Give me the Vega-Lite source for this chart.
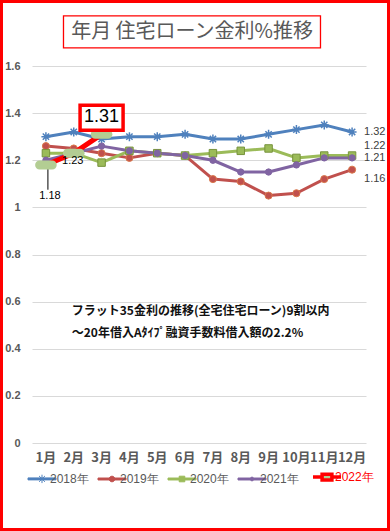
{
  "$schema": "https://vega.github.io/schema/vega-lite/v6.json",
  "width": 390,
  "height": 531,
  "padding": 0,
  "autosize": {"type": "none"},
  "background": "white",
  "config": {"view": {"stroke": "#ff0000", "strokeWidth": 6}},
  "data": {"values": [
    {"year": "2018年", "month": "1月", "value": 1.30}, {"year": "2018年", "month": "2月", "value": 1.32}, {"year": "2018年", "month": "3月", "value": 1.29}, {"year": "2018年", "month": "4月", "value": 1.30}, {"year": "2018年", "month": "5月", "value": 1.30}, {"year": "2018年", "month": "6月", "value": 1.31}, {"year": "2018年", "month": "7月", "value": 1.29}, {"year": "2018年", "month": "8月", "value": 1.29}, {"year": "2018年", "month": "9月", "value": 1.31}, {"year": "2018年", "month": "10月", "value": 1.33}, {"year": "2018年", "month": "11月", "value": 1.35}, {"year": "2018年", "month": "12月", "value": 1.32},
    {"year": "2019年", "month": "1月", "value": 1.26}, {"year": "2019年", "month": "2月", "value": 1.25}, {"year": "2019年", "month": "3月", "value": 1.23}, {"year": "2019年", "month": "4月", "value": 1.21}, {"year": "2019年", "month": "5月", "value": 1.23}, {"year": "2019年", "month": "6月", "value": 1.22}, {"year": "2019年", "month": "7月", "value": 1.12}, {"year": "2019年", "month": "8月", "value": 1.11}, {"year": "2019年", "month": "9月", "value": 1.05}, {"year": "2019年", "month": "10月", "value": 1.06}, {"year": "2019年", "month": "11月", "value": 1.12}, {"year": "2019年", "month": "12月", "value": 1.16},
    {"year": "2020年", "month": "1月", "value": 1.23}, {"year": "2020年", "month": "2月", "value": 1.23}, {"year": "2020年", "month": "3月", "value": 1.19}, {"year": "2020年", "month": "4月", "value": 1.24}, {"year": "2020年", "month": "5月", "value": 1.23}, {"year": "2020年", "month": "6月", "value": 1.22}, {"year": "2020年", "month": "7月", "value": 1.23}, {"year": "2020年", "month": "8月", "value": 1.24}, {"year": "2020年", "month": "9月", "value": 1.25}, {"year": "2020年", "month": "10月", "value": 1.21}, {"year": "2020年", "month": "11月", "value": 1.22}, {"year": "2020年", "month": "12月", "value": 1.22},
    {"year": "2021年", "month": "1月", "value": 1.20}, {"year": "2021年", "month": "2月", "value": 1.23}, {"year": "2021年", "month": "3月", "value": 1.26}, {"year": "2021年", "month": "4月", "value": 1.24}, {"year": "2021年", "month": "5月", "value": 1.23}, {"year": "2021年", "month": "6月", "value": 1.22}, {"year": "2021年", "month": "7月", "value": 1.20}, {"year": "2021年", "month": "8月", "value": 1.15}, {"year": "2021年", "month": "9月", "value": 1.15}, {"year": "2021年", "month": "10月", "value": 1.18}, {"year": "2021年", "month": "11月", "value": 1.21}, {"year": "2021年", "month": "12月", "value": 1.21},
    {"year": "2022年", "month": "1月", "value": 1.18}, {"year": "2022年", "month": "2月", "value": 1.23}, {"year": "2022年", "month": "3月", "value": 1.31}
  ]},
  "encoding": {
    "x": {"field": "month", "type": "ordinal",
      "sort": ["1月","2月","3月","4月","5月","6月","7月","8月","9月","10月","11月","12月"],
      "scale": {"type": "band", "range": [32, 366], "paddingInner": 0, "paddingOuter": 0},
      "axis": {"orient": "bottom", "offset": -88, "domain": false, "ticks": false, "tickSize": 0, "labelPadding": 8, "labelFont": "Noto Sans CJK JP", "labelFontWeight": "bold", "labelFontSize": 13, "labelColor": "#595959", "labelAngle": 0, "labelOverlap": false, "grid": false, "title": null}},
    "y": {"field": "value", "type": "quantitative",
      "scale": {"domain": [0, 1.6], "range": [443, 66], "nice": false},
      "axis": {"values": [0, 0.2, 0.4, 0.6, 0.8, 1, 1.2, 1.4, 1.6], "labelExpr": "'' + datum.value", "offset": -32, "domain": false, "ticks": false, "tickSize": 0, "labelPadding": 12, "labelFont": "Liberation Sans", "labelFontWeight": "bold", "labelFontSize": 11, "labelColor": "#595959", "grid": true, "gridColor": "#d9d9d9", "gridWidth": 1, "title": null}}
  },
  "layer": [
    {
      "transform": [{"filter": "datum.year != '2022年'"}],
      "mark": {"type": "line", "strokeWidth": 3, "strokeJoin": "round", "strokeCap": "round"},
      "encoding": {
        "color": {"field": "year", "type": "nominal",
          "scale": {"domain": ["2018年","2019年","2020年","2021年","2022年"], "range": ["#4F81BD","#C0504D","#9BBB59","#8064A2","#FF0000"]},
          "legend": {"orient": "none", "legendX": 36, "legendY": 471, "direction": "horizontal", "columns": 5, "title": null,
            "padding": 0, "columnPadding": 7, "labelOffset": 2, "labelFont": "Liberation Sans", "labelFontSize": 12,
            "labelColor": {"expr": "datum.label == '2022年' ? '#ff0000' : '#595959'"},
            "symbolSize": 784, "symbolOpacity": 1,
            "symbolType": {"expr": "datum.value == '2018年' ? 'M-1,-0.07H1V0.07H-1Z M-0.3,0H0.3M0,-0.3V0.3M-0.21,-0.21L0.21,0.21M-0.21,0.21L0.21,-0.21' : datum.value == '2019年' ? 'M-1,-0.07H1V0.07H-1Z M0.2,0A0.2,0.2,0,1,1,-0.2,0A0.2,0.2,0,1,1,0.2,0Z' : datum.value == '2020年' ? 'M-1,-0.07H1V0.07H-1Z M-0.2,-0.2H0.2V0.2H-0.2Z' : datum.value == '2021年' ? 'M-1,-0.07H1V0.07H-1Z M0.13,0A0.13,0.13,0,1,1,-0.13,0A0.13,0.13,0,1,1,0.13,0Z' : 'M-1,0H-0.35M0.35,0H1M-0.35,-0.2H0.35V0.2H-0.35Z'"},
            "symbolFillColor": {"expr": "datum.value == '2018年' ? '#4F81BD' : datum.value == '2019年' ? '#C0504D' : datum.value == '2020年' ? '#9BBB59' : datum.value == '2021年' ? '#8064A2' : '#b3cd93'"},
            "symbolStrokeWidth": {"expr": "datum.value == '2022年' ? 3.5 : 1"}
          }}
      }
    },
    {
      "transform": [{"filter": "datum.year == '2018年'"}],
      "mark": {"type": "point", "shape": "M-1,0H1M0,-1V1M-0.7,-0.7L0.7,0.7M-0.7,0.7L0.7,-0.7", "size": 81, "filled": false, "stroke": "#4F81BD", "strokeWidth": 1.5, "opacity": 1}
    },
    {
      "transform": [{"filter": "datum.year == '2019年'"}],
      "mark": {"type": "point", "shape": "circle", "size": 50, "filled": true, "fill": "#C0504D", "stroke": "#D9774A", "strokeWidth": 1, "opacity": 1}
    },
    {
      "transform": [{"filter": "datum.year == '2020年'"}],
      "mark": {"type": "point", "shape": "square", "size": 56, "filled": true, "fill": "#9BBB59", "stroke": "#77933C", "strokeWidth": 1, "opacity": 1}
    },
    {
      "transform": [{"filter": "datum.year == '2021年'"}],
      "mark": {"type": "point", "shape": "circle", "size": 40, "filled": true, "fill": "#8064A2", "stroke": "#8064A2", "strokeWidth": 1, "opacity": 1}
    },
    {
      "transform": [{"filter": "datum.year == '2022年' && datum.month == '1月'"}],
      "mark": {"type": "rule", "color": "#000000", "strokeWidth": 1, "xOffset": 2},
      "encoding": {"y2": {"datum": 1.075}}
    },
    {
      "transform": [{"filter": "datum.year == '2022年'"}],
      "mark": {"type": "line", "strokeWidth": 5, "color": "#FF0000", "strokeJoin": "round", "strokeCap": "round"}
    },
    {
      "transform": [{"filter": "datum.year == '2022年'"}],
      "mark": {"type": "point", "shape": "M-0.6,-0.43H0.6A0.43,0.43,0,0,1,0.6,0.43H-0.6A0.43,0.43,0,0,1,-0.6,-0.43Z", "size": 441, "filled": true, "fill": "#b3cd93", "strokeWidth": 0, "opacity": 1}
    },
    {
      "transform": [{"filter": "datum.year != '2022年' && datum.month == '12月'"}],
      "mark": {"type": "text", "align": "left", "baseline": "middle", "dx": 12, "font": "Liberation Sans", "fontSize": 11, "color": "#404040",
        "dy": {"expr": "datum.year == '2020年' ? -10 : datum.year == '2019年' ? 9 : 0"}},
      "encoding": {"text": {"field": "value", "type": "quantitative", "format": ".2f"}}
    },
    {
      "transform": [{"filter": "datum.year == '2022年' && datum.month != '3月'"}],
      "mark": {"type": "text", "align": "center", "baseline": "middle", "font": "Liberation Sans", "fontSize": 11, "color": "#000000",
        "dx": {"expr": "datum.month == '1月' ? 4 : -1"},
        "dy": {"expr": "datum.month == '1月' ? 31 : 8"}},
      "encoding": {"text": {"field": "value", "type": "quantitative", "format": ".2f"}}
    },
    {
      "transform": [{"filter": "datum.year == '2022年' && datum.month == '3月'"}],
      "mark": {"type": "point", "shape": "M-1,-1.353H1V-0.19H-1Z", "size": 1849, "filled": true, "fill": "#ffffff", "stroke": "#ff0000", "strokeWidth": 3.5, "opacity": 1}
    },
    {
      "transform": [{"filter": "datum.year == '2022年' && datum.month == '3月'"}],
      "mark": {"type": "text", "align": "center", "baseline": "middle", "dy": -17, "font": "Liberation Sans", "fontSize": 18, "color": "#000000"},
      "encoding": {"text": {"field": "value", "type": "quantitative", "format": ".2f"}}
    },
    {
      "transform": [{"filter": "datum.year == '2022年' && datum.month == '1月'"}],
      "mark": {"type": "point", "shape": "M-0.9463,-0.1245H1.0537V0.1245H-0.9463Z", "size": 66049, "filled": true, "fill": "#ffffff", "stroke": "#ff0000", "strokeWidth": 1.3, "opacity": 1},
      "encoding": {"x": {"datum": "6月", "type": "ordinal"}, "y": {"datum": 1.745}}
    },
    {
      "transform": [{"filter": "datum.year == '2022年' && datum.month == '1月'"}],
      "mark": {"type": "text", "align": "center", "baseline": "middle", "dx": 7, "font": "Noto Sans CJK JP", "fontSize": 20, "color": "#595959"},
      "encoding": {"x": {"datum": "6月", "type": "ordinal"}, "y": {"datum": 1.745}, "text": {"value": "年月 住宅ローン金利%推移"}}
    },
    {
      "transform": [{"filter": "datum.year == '2022年' && datum.month == '1月'"}],
      "mark": {"type": "text", "align": "left", "baseline": "top", "dx": -2, "lineHeight": 22, "font": "Noto Sans CJK JP", "fontWeight": "bold", "fontSize": 12, "color": "#111111"},
      "encoding": {"x": {"datum": "2月", "type": "ordinal"}, "y": {"datum": 0.58}, "text": {"value": ["フラット35金利の推移(全宅住宅ローン)9割以内", "～20年借入Aﾀｲﾌﾟ融資手数料借入額の2.2%"]}}
    }
  ]
}
